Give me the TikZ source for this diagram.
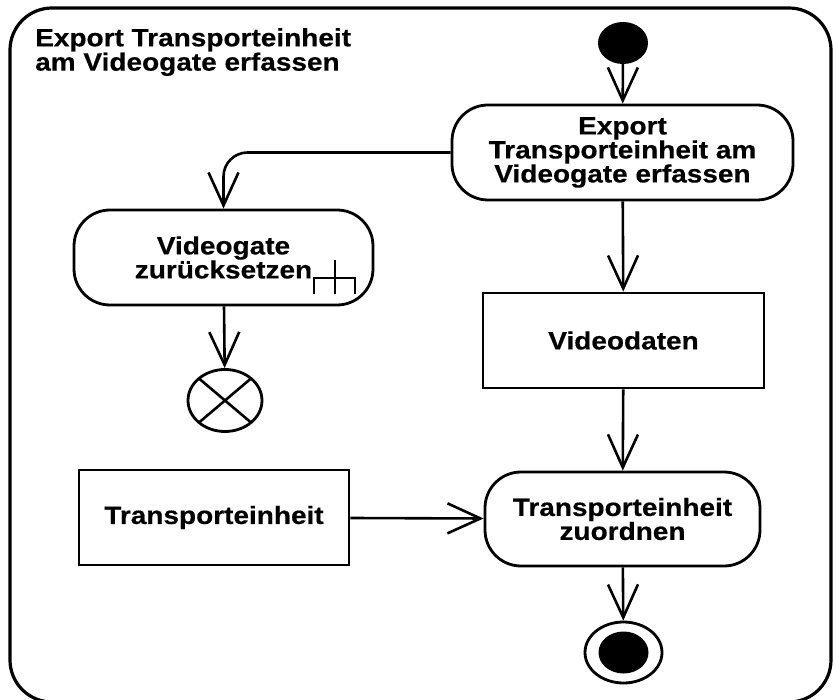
\documentclass[tikz,border=0pt]{standalone}
\usepackage{fontspec}
\setmainfont[FakeStretch=1.12,FakeBold=0.4]{Liberation Sans}
\usetikzlibrary{arrows.meta,shapes.geometric}
\tikzset{
  lbl/.style={font=\fontsize{25}{24}\selectfont\bfseries, align=center},
  action/.style={lbl, draw, line width=2.8pt, rounded corners=36pt, inner sep=0pt},
  objbox/.style={lbl, draw, line width=2.8pt, inner sep=0pt},
  flow/.style={line width=2.6pt, -{Straight Barb[length=33pt,width=30pt,line width=2.6pt]}},
}
\begin{document}
\begin{tikzpicture}[x=1pt,y=-1pt]
\useasboundingbox (0,0) rectangle (833,700);
% activity frame
\draw[line width=3.2pt, rounded corners=42pt] (10,8) rectangle (831,702);
\node[font=\fontsize{25}{22}\selectfont\bfseries, align=left, anchor=north west, inner sep=0pt]
  (title) at (35,28) {Export Transporteinheit\\am Videogate erfassen};
% nodes
\node[ellipse, fill=black, minimum width=50pt, minimum height=42pt, inner sep=0pt] (start) at (623,43) {};
\node[action, minimum width=341pt, minimum height=95pt] (export) at (622.5,152.5)
  {Export\\Transporteinheit am\\Videogate erfassen};
\node[action, minimum width=299pt, minimum height=95pt] (reset) at (223.5,257.5)
  {Videogate\\zurücksetzen};
\node[objbox, minimum width=281pt, minimum height=95pt] (video) at (623.5,340.5) {Videodaten};
\node[objbox, minimum width=270pt, minimum height=95pt] (unit) at (214,517.5) {Transporteinheit};
\node[action, minimum width=275pt, minimum height=94pt] (assign) at (622.5,519)
  {Transporteinheit\\zuordnen};
\node[ellipse, draw, line width=2.8pt, minimum width=74pt, minimum height=62pt, inner sep=0pt] (ffinal) at (225,400.5) {};
\node[ellipse, draw, line width=2.8pt, minimum width=77pt, minimum height=61pt, inner sep=0pt] (final) at (623.5,652.5) {};
\node[ellipse, fill=black, minimum width=50pt, minimum height=42pt, inner sep=0pt] (finaldot) at (final.center) {};
% flow final cross
\draw[line width=2.6pt] (ffinal.center) ++(-26,-22) -- ++(52,44);
\draw[line width=2.6pt] (ffinal.center) ++(-26,22) -- ++(52,-44);
% call-behaviour rake
\draw[line width=2.6pt] (314,294) |- (355,278) -- (355,294);
\draw[line width=2.6pt] (335,260) -- (335,294);
% control flows
\draw[flow] (start) -- (export);
\draw[flow, rounded corners=24pt] (export.west) -| (reset.north);
\draw[flow] (reset) -- (ffinal);
\draw[flow] (export) -- (video);
\draw[flow] (video) -- (assign);
\draw[flow] (unit) -- (assign);
\draw[flow] (assign) -- (final);
\end{tikzpicture}
\end{document}
